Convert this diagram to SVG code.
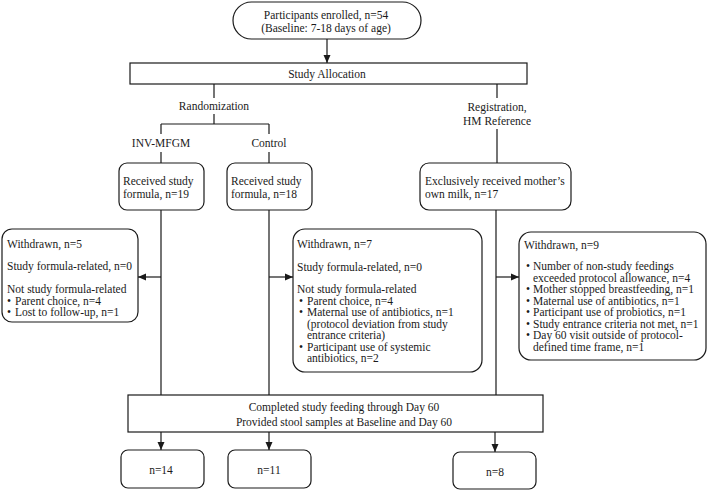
<svg xmlns="http://www.w3.org/2000/svg" width="708" height="491" viewBox="0 0 708 491">
<defs>
<style>
text{font-family:"Liberation Serif","Times New Roman",serif;font-size:11.5px;fill:#1a1a1a}
.c{text-anchor:middle}
.box{fill:#fff;stroke:#1a1a1a;stroke-width:1.2}
.ln{fill:none;stroke:#1a1a1a;stroke-width:1.2}
</style>
<marker id="ah" viewBox="0 0 8 8" refX="8" refY="4" markerWidth="8" markerHeight="8" markerUnits="userSpaceOnUse" orient="auto">
<path d="M0,0.5 L8,4 L0,7.5 Z" fill="#1a1a1a"/>
</marker>
</defs>
<rect width="708" height="491" fill="#fff"/>

<g id="connectors">
<path class="ln" d="M327,39 V63" marker-end="url(#ah)"/>
<path class="ln" d="M214,84 V98 M214,114 V124 M161,124 H269 M161,124 V134 M269,124 V134 M161,152 V163 M269,152 V163"/>
<path class="ln" d="M497,84 V98 M497,129 V163"/>
<path class="ln" d="M161,210 V395 M269,210 V395 M496,210 V395"/>
<path class="ln" d="M161,277 H138" marker-end="url(#ah)"/>
<path class="ln" d="M269,277 H293" marker-end="url(#ah)"/>
<path class="ln" d="M496,277 H519" marker-end="url(#ah)"/>
<path class="ln" d="M161,432 V450" marker-end="url(#ah)"/>
<path class="ln" d="M269,432 V450" marker-end="url(#ah)"/>
<path class="ln" d="M495,432 V452" marker-end="url(#ah)"/>
</g>

<g id="labels">
<text class="c" x="214" y="110">Randomization</text>
<text class="c" x="497" y="111">Registration,</text>
<text class="c" x="497" y="125">HM Reference</text>
<text class="c" x="161" y="147">INV-MFGM</text>
<text class="c" x="269" y="147">Control</text>
</g>

<g id="enrolled">
<rect class="box" x="233" y="2" width="188" height="37" rx="18.5"/>
<text class="c" x="326" y="19">Participants enrolled, n=54</text>
<text class="c" x="326" y="32">(Baseline: 7-18 days of age)</text>
</g>

<g id="allocation">
<rect class="box" x="130" y="63" width="397" height="21"/>
<text class="c" x="327" y="78">Study Allocation</text>
</g>

<g id="received-inv">
<rect class="box" x="119" y="163" width="85" height="47" rx="8"/>
<text x="123" y="185">Received study</text>
<text x="123" y="198">formula, n=19</text>
</g>

<g id="received-control">
<rect class="box" x="227" y="163" width="85" height="47" rx="8"/>
<text x="231" y="185">Received study</text>
<text x="231" y="198">formula, n=18</text>
</g>

<g id="received-hm">
<rect class="box" x="420" y="163" width="151" height="47" rx="9"/>
<text x="425" y="185">Exclusively received mother’s</text>
<text x="425" y="198">own milk, n=17</text>
</g>

<g id="withdrawn-inv">
<rect class="box" x="2" y="229" width="136" height="93" rx="10"/>
<text x="7" y="248">Withdrawn, n=5</text>
<text x="7" y="270">Study formula-related, n=0</text>
<text x="7" y="293">Not study formula-related</text>
<text x="7" y="304.5">•</text><text x="15" y="304.5">Parent choice, n=4</text>
<text x="7" y="316">•</text><text x="15" y="316">Lost to follow-up, n=1</text>
</g>

<g id="withdrawn-control">
<rect class="box" x="293" y="229" width="189" height="143" rx="12"/>
<text x="297" y="248">Withdrawn, n=7</text>
<text x="297" y="271">Study formula-related, n=0</text>
<text x="297" y="293">Not study formula-related</text>
<text x="299" y="304.5">•</text><text x="307" y="304.5">Parent choice, n=4</text>
<text x="299" y="316">•</text><text x="307" y="316">Maternal use of antibiotics, n=1</text>
<text x="307" y="327.5">(protocol deviation from study</text>
<text x="307" y="339">entrance criteria)</text>
<text x="299" y="350.5">•</text><text x="307" y="350.5">Participant use of systemic</text>
<text x="307" y="362">antibiotics, n=2</text>
</g>

<g id="withdrawn-hm">
<rect class="box" x="519" y="232" width="187" height="128" rx="12"/>
<text x="524" y="249">Withdrawn, n=9</text>
<text x="526" y="270">•</text><text x="533" y="270">Number of non-study feedings</text>
<text x="533" y="281.5">exceeded protocol allowance, n=4</text>
<text x="526" y="293">•</text><text x="533" y="293">Mother stopped breastfeeding, n=1</text>
<text x="526" y="304.5">•</text><text x="533" y="304.5">Maternal use of antibiotics, n=1</text>
<text x="526" y="316">•</text><text x="533" y="316">Participant use of probiotics, n=1</text>
<text x="526" y="327.5">•</text><text x="533" y="327.5">Study entrance criteria not met, n=1</text>
<text x="526" y="339">•</text><text x="533" y="339">Day 60 visit outside of protocol-</text>
<text x="533" y="350.5">defined time frame, n=1</text>
</g>

<g id="completed">
<rect class="box" x="128" y="395" width="415" height="37"/>
<text class="c" x="344" y="411">Completed study feeding through Day 60</text>
<text class="c" x="344" y="426">Provided stool samples at Baseline and Day 60</text>
</g>

<g id="final-inv">
<rect class="box" x="121" y="450" width="83" height="38" rx="7"/>
<text class="c" x="161" y="474">n=14</text>
</g>
<g id="final-control">
<rect class="box" x="228" y="450" width="83" height="38" rx="7"/>
<text class="c" x="269" y="474">n=11</text>
</g>
<g id="final-hm">
<rect class="box" x="453" y="452" width="83" height="37" rx="7"/>
<text class="c" x="495" y="476">n=8</text>
</g>
</svg>
